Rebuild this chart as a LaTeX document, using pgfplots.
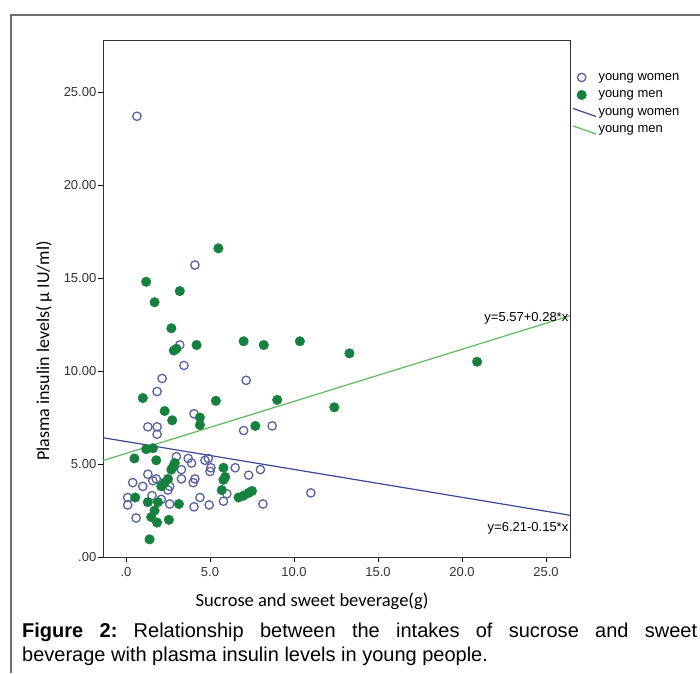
\documentclass[border=0pt]{standalone}
\usepackage{pgfplots}
\pgfplotsset{compat=1.18}
\usepackage{fontspec}
\setmainfont{Liberation Sans}
\newfontfamily\carlito{Carlito}
\definecolor{womenc}{RGB}{88,98,160}
\definecolor{womenl}{RGB}{60,72,150}
\definecolor{menc}{RGB}{22,128,62}
\definecolor{menl}{RGB}{95,185,95}
\definecolor{framec}{RGB}{110,110,110}
\pgfplotsset{slopeline/.style={legend image code/.code={\draw[##1] (0pt,4pt) -- (0.8cm,-4pt);}}}
\frenchspacing
\begin{document}
\begin{tikzpicture}
\useasboundingbox (0pt,0pt) rectangle (700pt,-673pt);
\draw[framec, line width=1.3pt] (700pt,-15pt) -- (11pt,-15pt) -- (11pt,-673pt);
\begin{axis}[
  at={(103pt,-557pt)}, anchor=south west,
  scale only axis, width=467pt, height=517pt,
  xmin=-1.37, xmax=26.43, ymin=0, ymax=27.8,
  xtick={0,5,10,15,20,25}, xticklabels={.0,5.0,10.0,15.0,20.0,25.0},
  ytick={0,5,10,15,20,25}, yticklabels={.00,5.00,10.00,15.00,20.00,25.00},
  tick pos=left, tick align=outside, major tick length=5pt,
  tick style={black, line width=0.8pt},
  axis line style={black!80, line width=0.9pt},
  ticklabel style={font=\fontsize{13}{14}\selectfont, text=black!80},
  xticklabel style={yshift=-2pt},
  yticklabel style={inner sep=1.5pt},
  legend style={at={(1.005,0.94)}, anchor=north west, draw=none, fill=none,
    font=\fontsize{13}{14}\selectfont, row sep=5pt, inner sep=0pt},
  legend cell align=left,
]
\addplot[only marks, mark=o, mark size=4.2pt, womenc, line width=1.3pt] coordinates {
(0.65,23.7) (4.1,15.7) (3.2,11.4) (3.45,10.3) (2.15,9.6) (7.15,9.5) (1.85,8.9)
(4.05,7.7) (1.3,7.0) (1.85,7.0) (1.85,6.6) (7.0,6.8) (8.7,7.05)
(3.0,5.4) (3.7,5.3) (3.9,5.05) (4.7,5.2) (4.9,5.3) (5.05,4.8) (5.0,4.6)
(3.3,4.7) (6.5,4.8) (8.0,4.7) (7.3,4.4) (1.3,4.45) (1.6,4.1) (1.8,4.2)
(0.4,4.0) (1.0,3.8) (3.3,4.2) (4.1,4.2) (4.0,4.0) (2.6,3.8) (2.5,3.6)
(6.0,3.4) (1.55,3.3) (0.1,3.2) (2.1,3.1) (4.4,3.2) (5.8,3.0) (0.1,2.8)
(2.6,2.85) (4.05,2.7) (4.95,2.8) (8.15,2.85) (0.6,2.1) (11.0,3.45)
};
\addplot[only marks, mark=*, mark size=4.8pt, menc, mark options={draw=menc, fill=menc}] coordinates {
(5.5,16.6) (1.2,14.8) (3.2,14.3) (1.7,13.7) (2.7,12.3) (7.0,11.6) (10.35,11.6)
(4.2,11.4) (8.2,11.4) (13.3,10.95) (20.9,10.5) (3.0,11.2) (2.85,11.1)
(1.0,8.55) (5.35,8.4) (9.0,8.45) (2.3,7.85) (12.4,8.05) (4.4,7.5) (2.75,7.35)
(4.4,7.1) (7.7,7.05) (1.2,5.8) (1.6,5.85) (0.5,5.3) (1.8,5.2) (2.9,5.05)
(2.8,4.85) (2.7,4.7) (5.8,4.8) (5.9,4.3) (5.8,4.15) (5.7,3.6) (2.5,4.2)
(2.3,4.0) (2.1,3.8) (6.7,3.2) (7.0,3.3) (7.3,3.45) (7.5,3.55) (0.55,3.2)
(1.3,2.95) (1.9,2.95) (3.15,2.85) (1.7,2.5) (1.5,2.15) (1.85,1.85) (2.55,2.0)
(1.4,0.95)
};
\addplot[womenl, line width=1.2pt, slopeline]
  coordinates {(-1.37,6.4155) (26.43,2.2455)};
\addplot[menl, line width=1.2pt, slopeline]
  coordinates {(-1.37,5.1864) (26.43,12.9704)};
\legend{young women, young men, young women, young men}
\node[anchor=east, inner sep=1pt, font=\fontsize{13}{14}\selectfont] at (axis cs:26.4,12.85) {y=5.57+0.28*x};
\node[anchor=east, inner sep=1pt, font=\fontsize{13}{14}\selectfont] at (axis cs:26.4,1.56) {y=6.21-0.15*x};
\end{axis}
\node[font=\carlito\fontsize{18.5}{20}\selectfont, anchor=base] at (312pt,-606pt) {Sucrose and sweet beverage(g)};
\node[font=\carlito\fontsize{18}{20}\selectfont, anchor=base, rotate=90] at (49pt,-351pt) {Plasma insulin levels( μ IU/ml)};
\node[anchor=base west, inner sep=0pt, font=\fontsize{20}{24}\selectfont] at (22pt,-637pt)
  {\makebox[675pt][s]{\textbf{Figure 2:} Relationship between the intakes of sucrose and sweet}};
\node[anchor=base west, inner sep=0pt, font=\fontsize{20}{24}\selectfont] at (22pt,-661pt)
  {beverage with plasma insulin levels in young people.};
\end{tikzpicture}
\end{document}
